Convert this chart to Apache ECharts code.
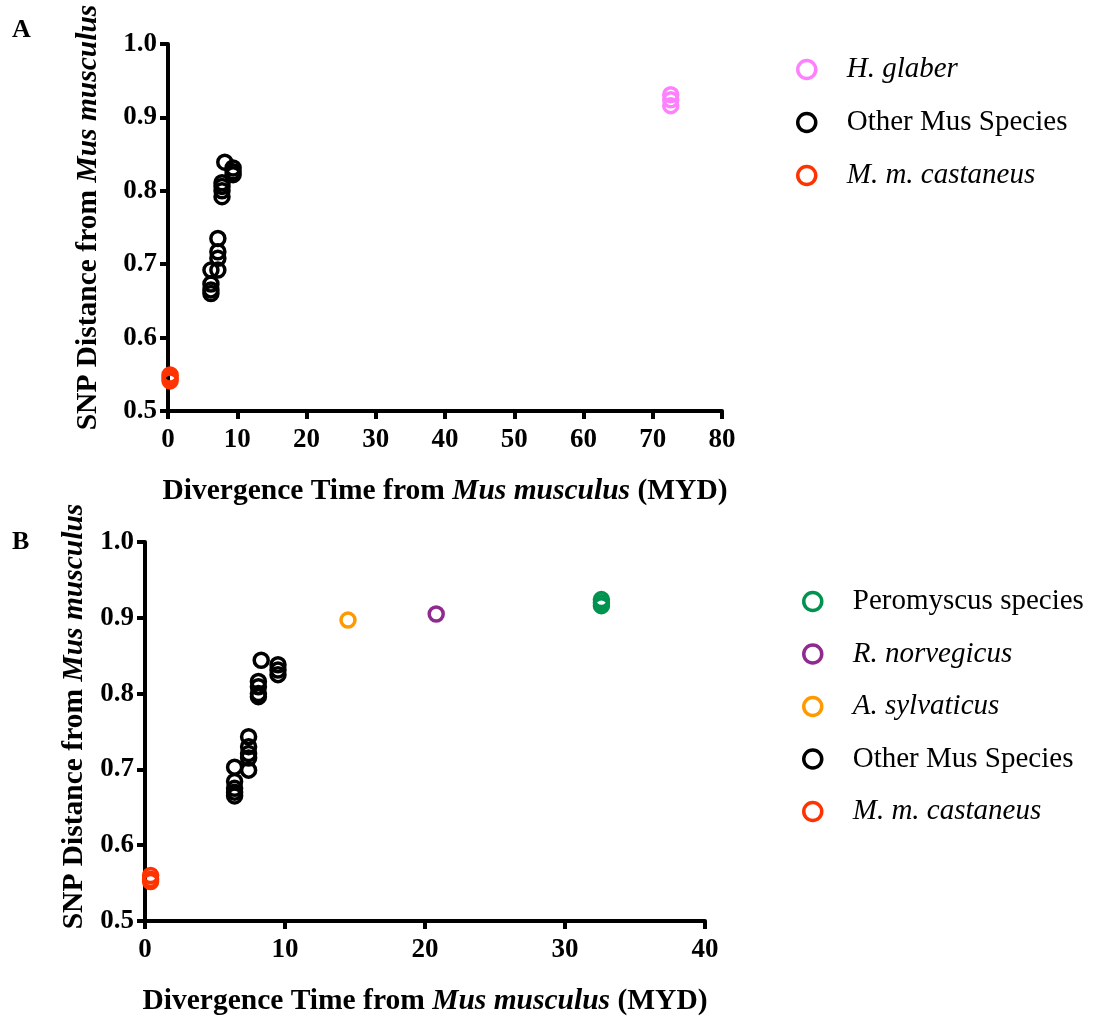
<!DOCTYPE html>
<html>
<head>
<meta charset="utf-8">
<script src="https://cdn.jsdelivr.net/npm/echarts@6/dist/echarts.min.js"></script>
<style>
  html, body { margin: 0; padding: 0; background: #fff; }
  #chart { width: 1095px; height: 1018px; }
</style>
</head>
<body>
<div id="chart"></div>
<script>
// Panel A: SNP distance vs divergence time (H. glaber comparison)
const castaneusA_x = [0.3, 0.3, 0.3];
const castaneusA_y = [0.549, 0.545, 0.541];
const glaber_x = [72.6, 72.6, 72.6];
const glaber_y = [0.931, 0.924, 0.916];
const musA_x = [8.2, 9.4, 9.4, 9.4, 7.8, 7.8, 7.8, 7.8, 7.2, 7.2, 7.2, 7.2, 6.2, 6.2, 6.2, 6.2];
const musA_y = [0.839, 0.831, 0.826, 0.822, 0.811, 0.806, 0.800, 0.792, 0.735, 0.717, 0.708, 0.692, 0.692, 0.673, 0.665, 0.660];

// Panel B: SNP distance vs divergence time (Muridae comparison)
const castaneusB_x = [0.4, 0.4, 0.4];
const castaneusB_y = [0.560, 0.555, 0.552];
const sylvaticus_x = [14.5];
const sylvaticus_y = [0.897];
const norvegicus_x = [20.8];
const norvegicus_y = [0.905];
const peromyscus_x = [32.6, 32.6, 32.6];
const peromyscus_y = [0.924, 0.920, 0.916];
const musB_x = [8.3, 9.5, 9.5, 9.5, 8.1, 8.1, 8.1, 8.1, 7.4, 7.4, 7.4, 7.4, 7.4, 6.4, 6.4, 6.4, 6.4, 6.4];
const musB_y = [0.844, 0.838, 0.831, 0.825, 0.816, 0.809, 0.800, 0.796, 0.743, 0.730, 0.721, 0.715, 0.699, 0.703, 0.684, 0.675, 0.670, 0.665];

// Axis ticks
const xTicksA = [0, 10, 20, 30, 40, 50, 60, 70, 80];
const xTicksB = [0, 10, 20, 30, 40];
const yTicks = [0.5, 0.6, 0.7, 0.8, 0.9, 1.0];

const legendA = ['H. glaber', 'Other Mus Species', 'M. m. castaneus'];
const legendB = ['Peromyscus species', 'R. norvegicus', 'A. sylvaticus', 'Other Mus Species', 'M. m. castaneus'];
const italicNames = ['H. glaber', 'M. m. castaneus', 'R. norvegicus', 'A. sylvaticus'];

const colors = {
  'H. glaber': '#ff80ff',
  'Other Mus Species': '#000000',
  'M. m. castaneus': '#ff3300',
  'Peromyscus species': '#00934f',
  'R. norvegicus': '#8f2a8f',
  'A. sylvaticus': '#ff9900'
};

const FONT = "'Liberation Serif', 'Times New Roman', serif";

function pairs(xs, ys) { return xs.map((x, i) => [x, ys[i]]); }

function scatter(name, xs, ys, idx) {
  return {
    name: name,
    type: 'scatter',
    xAxisIndex: idx,
    yAxisIndex: idx,
    symbol: 'circle',
    symbolSize: 14,
    itemStyle: { color: 'rgba(255,255,255,0)', borderColor: colors[name], borderWidth: 3.5, opacity: 1 },
    emphasis: { disabled: true },
    data: pairs(xs, ys)
  };
}

const nameRich = {
  b: { fontFamily: FONT, fontWeight: 'bold', fontSize: 29.5, color: '#000' },
  bi: { fontFamily: FONT, fontWeight: 'bold', fontStyle: 'italic', fontSize: 29.5, color: '#000' }
};

function xAxis(idx, max, ticks) {
  return {
    type: 'value', gridIndex: idx, min: 0, max: max, interval: ticks[1] - ticks[0],
    name: '{b|Divergence Time from }{bi|Mus musculus}{b| (MYD)}',
    nameLocation: 'middle', nameGap: 65,
    nameTextStyle: { rich: nameRich },
    axisLine: { show: true, onZero: false, lineStyle: { color: '#000', width: 4 } },
    axisTick: { show: true, length: 8, lineStyle: { color: '#000', width: 4 } },
    axisLabel: { fontFamily: FONT, fontWeight: 'bold', fontSize: 27, color: '#000', margin: 16 },
    splitLine: { show: false }
  };
}

function yAxis(idx, gap, shift) {
  return {
    type: 'value', gridIndex: idx, min: yTicks[0], max: yTicks[yTicks.length - 1], interval: 0.1,
    name: '{b|SNP Distance from }{bi|Mus musculus}',
    nameLocation: 'middle', nameGap: gap,
    nameTextStyle: { padding: [0, 0, 0, shift], rich: nameRich },
    axisLine: { show: true, onZero: false, lineStyle: { color: '#000', width: 4 } },
    axisTick: { show: true, length: 8, lineStyle: { color: '#000', width: 4 } },
    axisLabel: { fontFamily: FONT, fontWeight: 'bold', fontSize: 27, color: '#000', margin: 11,
      formatter: v => v.toFixed(1) },
    splitLine: { show: false }
  };
}

function legend(data, left, top, gap) {
  return {
    data: data.map(n => ({ name: n, icon: 'circle' })),
    orient: 'vertical', left: left, top: top, padding: 0,
    itemWidth: 18, itemHeight: 18, itemGap: gap,
    selectedMode: false,
    itemStyle: { borderWidth: 3.5 },
    textStyle: { fontFamily: FONT, fontSize: 29, color: '#000', lineHeight: 29, padding: [0, 0, 0, 26],
      rich: { i: { fontFamily: FONT, fontStyle: 'italic', fontSize: 29, color: '#000' } } },
    formatter: n => italicNames.includes(n) ? '{i|' + n + '}' : n
  };
}

const chart = echarts.init(document.getElementById('chart'), null, { renderer: 'canvas' });
chart.setOption({
  backgroundColor: '#fff',
  animation: false,
  grid: [
    { left: 168, top: 44, width: 554, height: 367, outerBoundsMode: 'none', containLabel: false },
    { left: 145, top: 542, width: 560, height: 379, outerBoundsMode: 'none', containLabel: false }
  ],
  xAxis: [xAxis(0, 80, xTicksA), xAxis(1, 40, xTicksB)],
  yAxis: [yAxis(0, 65, 20), yAxis(1, 53, 30)],
  legend: [legend(legendA, 796, 55, 24), legend(legendB, 802, 587, 23.5)],
  graphic: [
    { type: 'text', left: 12, top: 17, style: { text: 'A', font: 'bold 26px ' + FONT, fill: '#000' } },
    { type: 'text', left: 12, top: 529, style: { text: 'B', font: 'bold 26px ' + FONT, fill: '#000' } }
  ],
  series: [
    scatter('H. glaber', glaber_x, glaber_y, 0),
    scatter('Other Mus Species', musA_x, musA_y, 0),
    scatter('M. m. castaneus', castaneusA_x, castaneusA_y, 0),
    scatter('Peromyscus species', peromyscus_x, peromyscus_y, 1),
    scatter('R. norvegicus', norvegicus_x, norvegicus_y, 1),
    scatter('A. sylvaticus', sylvaticus_x, sylvaticus_y, 1),
    scatter('Other Mus Species', musB_x, musB_y, 1),
    scatter('M. m. castaneus', castaneusB_x, castaneusB_y, 1)
  ]
});
</script>
</body>
</html>
